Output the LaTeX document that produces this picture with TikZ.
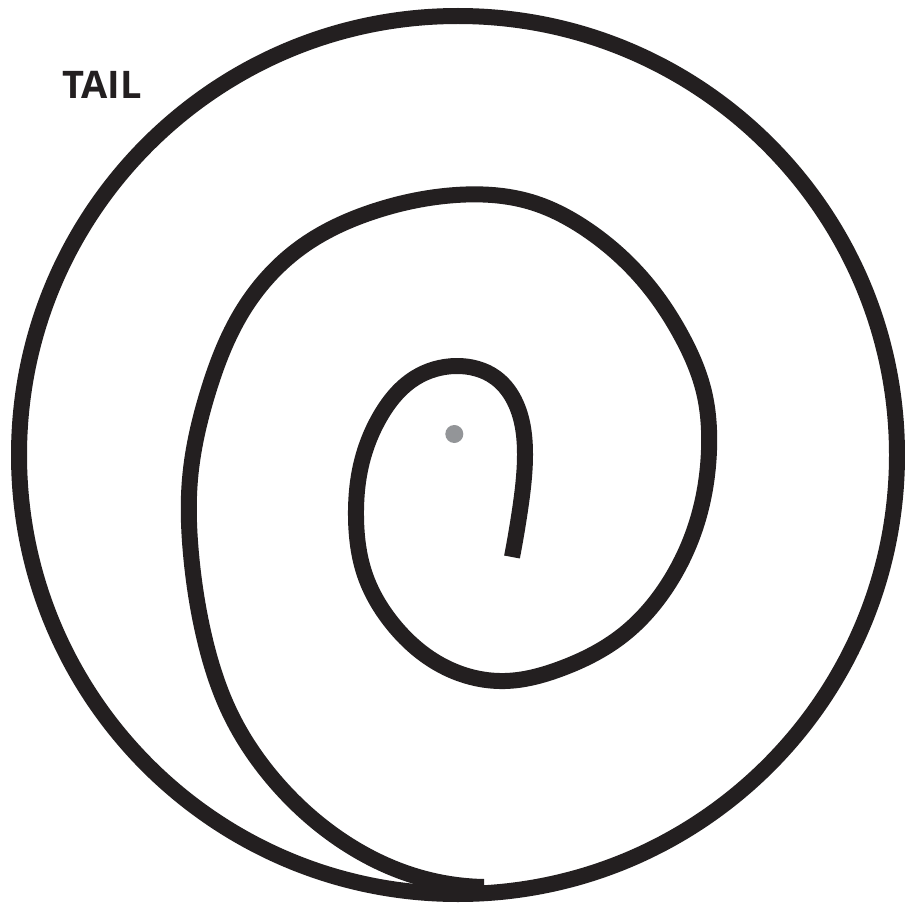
\documentclass[tikz,border=0pt]{standalone}
\usepackage{fontspec}
\usetikzlibrary{hobby}
\newfontfamily\labelfont{Open Sans}
\definecolor{ink}{HTML}{231F20}
\definecolor{dotgray}{HTML}{939598}
\begin{document}
\begin{tikzpicture}[x=1pt,y=-1pt,
  stroke/.style={draw=ink,line width=16pt,line cap=butt,line join=round},
  label/.style={inner sep=0pt,font=\labelfont\bfseries\fontsize{38}{38}\selectfont,text=ink}]
\useasboundingbox[fill=white] (0,0) rectangle (905,904);
% outer circle
\draw[stroke] (458,455) circle[radius=439pt];
% spiral
\coordinate (inner) at (512,557);
\coordinate (outer) at (484,887);
\draw[stroke] (inner) to[curve through={
 (520,510) (525,455) (516,404) (496,378) (456,366) (415,378) (381,415)
 (360,470) (356,517) (365,575) (392,623) (439,664) (505,681) (560,669)
 (623,635) (669,583) (698,519) (709,450) (704,392) (681,335) (646,283)
 (589,231) (531,202) (456,195) (375,211) (300,248) (242,312) (208,392)
 (190,479) (191,554) (204,636) (230,713) (274,780) (350,846)
 (415,876)}] (outer);
% centre dot
\fill[dotgray] (454.3,434) circle[radius=9pt];
\node[label] (tail) at (102,85) {TAIL};
\end{tikzpicture}
\end{document}
